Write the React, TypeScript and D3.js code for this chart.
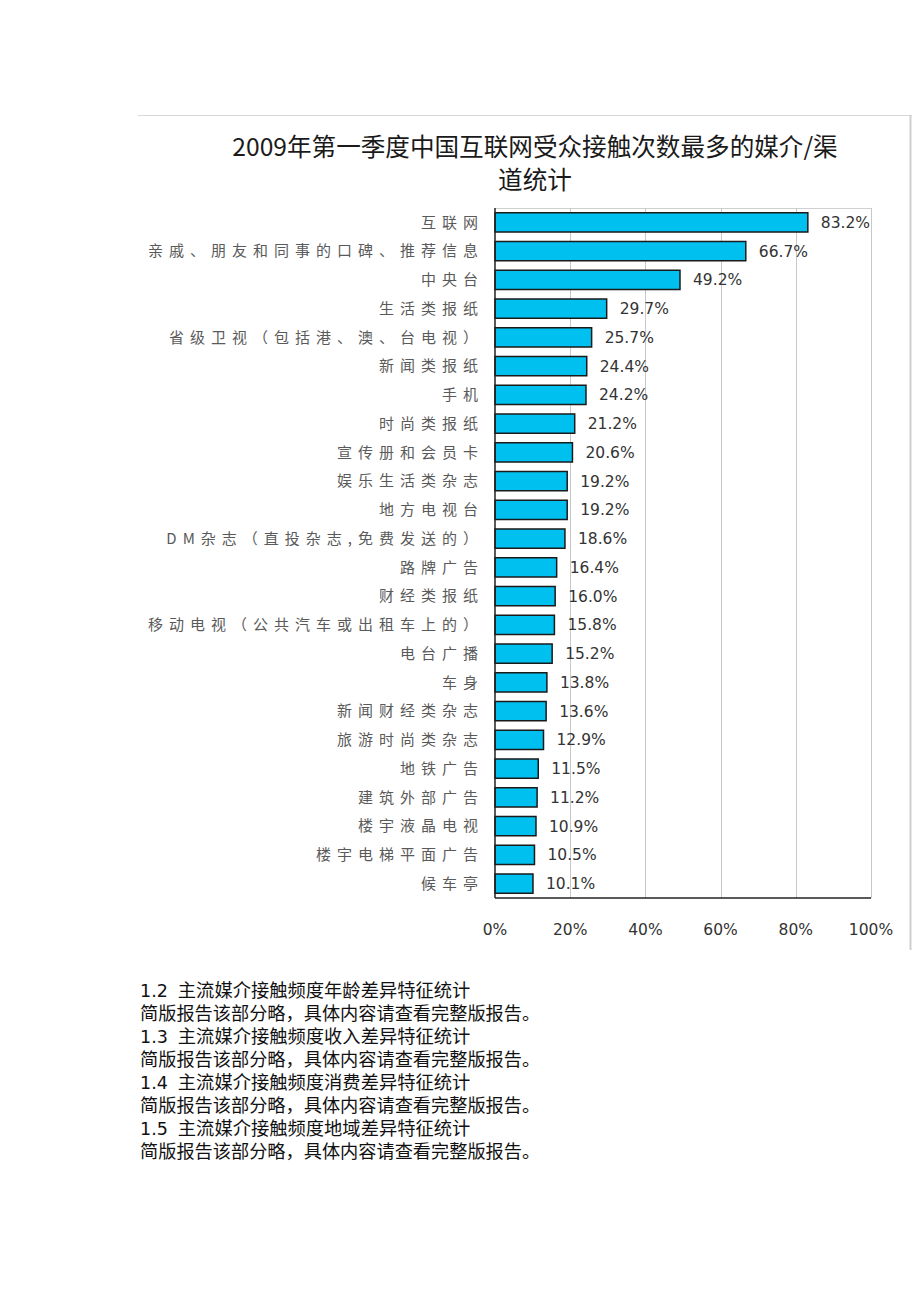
import React from "react";
import * as d3 from "d3";

const categories: string[] = [
  "互联网",
  "亲戚、朋友和同事的口碑、推荐信息",
  "中央台",
  "生活类报纸",
  "省级卫视（包括港、澳、台电视）",
  "新闻类报纸",
  "手机",
  "时尚类报纸",
  "宣传册和会员卡",
  "娱乐生活类杂志",
  "地方电视台",
  "DM杂志（直投杂志,免费发送的）",
  "路牌广告",
  "财经类报纸",
  "移动电视（公共汽车或出租车上的）",
  "电台广播",
  "车身",
  "新闻财经类杂志",
  "旅游时尚类杂志",
  "地铁广告",
  "建筑外部广告",
  "楼宇液晶电视",
  "楼宇电梯平面广告",
  "候车亭",
];

const values: number[] = [
  83.2, 66.7, 49.2, 29.7, 25.7, 24.4, 24.2, 21.2, 20.6, 19.2, 19.2, 18.6,
  16.4, 16.0, 15.8, 15.2, 13.8, 13.6, 12.9, 11.5, 11.2, 10.9, 10.5, 10.1,
];

const ticks: number[] = [0, 20, 40, 60, 80, 100];

const titleLines: string[] = [
  "2009年第一季度中国互联网受众接触次数最多的媒介/渠",
  "道统计",
];

const sections: [string, string][] = [
  ["1.2", "主流媒介接触频度年龄差异特征统计"],
  ["1.3", "主流媒介接触频度收入差异特征统计"],
  ["1.4", "主流媒介接触频度消费差异特征统计"],
  ["1.5", "主流媒介接触频度地域差异特征统计"],
];
const sectionNote = "简版报告该部分略，具体内容请查看完整版报告。";

export default function App() {
  const x = d3.scaleLinear().domain([0, 100]).range([495, 871]);
  const y = d3
    .scaleBand<string>()
    .domain(categories)
    .range([208, 898])
    .paddingInner(0.33)
    .paddingOuter(0.165);

  const cjk = "'Noto Sans CJK SC', sans-serif";
  const latin = "'DejaVu Sans', Verdana, sans-serif";

  return (
    <svg
      width={920}
      height={1302}
      style={{ position: "absolute", left: 0, top: 0, background: "#fff" }}
    >
      {/* picture frame */}
      <line x1={138} x2={912} y1={115.5} y2={115.5} stroke="#d8d8d8" />
      <line x1={910.5} x2={910.5} y1={115} y2={950} stroke="#cfcfcf" strokeWidth={2} />

      {/* title */}
      {titleLines.map((t, i) => (
        <text
          key={i}
          x={535}
          y={156 + i * 33}
          textAnchor="middle"
          fontFamily={cjk}
          fontSize={24.6}
          fill="#1a1a1a"
        >
          {t}
        </text>
      ))}

      {/* plot area top border */}
      <line x1={495} x2={871} y1={208.5} y2={208.5} stroke="#d0d0d0" />

      {/* gridlines */}
      {ticks.slice(1).map((t) => (
        <line
          key={t}
          x1={Math.round(x(t)) + 0.5}
          x2={Math.round(x(t)) + 0.5}
          y1={208}
          y2={898}
          stroke="#c8c8c8"
          strokeWidth={1}
        />
      ))}

      {/* bars */}
      {categories.map((c, i) => (
        <rect
          key={c}
          x={x(0)}
          y={y(c)!}
          width={x(values[i]) - x(0)}
          height={y.bandwidth()}
          fill="#00c0f0"
          stroke="#1a1a1a"
          strokeWidth={1.5}
        />
      ))}

      {/* axes */}
      <line x1={495} x2={495} y1={208} y2={898} stroke="#222" strokeWidth={1.5} />
      <line x1={495} x2={871} y1={898} y2={898} stroke="#222" strokeWidth={1.5} />

      {/* category labels */}
      {categories.map((c) => (
        <text
          key={c}
          x={484}
          y={y(c)! + y.bandwidth() / 2}
          dy="0.35em"
          textAnchor="end"
          fontFamily={cjk}
          fontSize={15}
          letterSpacing={6}
          fill="#5a5a5a"
        >
          {c}
        </text>
      ))}

      {/* value labels */}
      {categories.map((c, i) => (
        <text
          key={c}
          x={x(values[i]) + 13}
          y={y(c)! + y.bandwidth() / 2}
          dy="0.36em"
          fontFamily={latin}
          fontSize={15.5}
          fill="#333"
        >
          {values[i].toFixed(1) + "%"}
        </text>
      ))}

      {/* tick labels */}
      {ticks.map((t) => (
        <text
          key={t}
          x={x(t)}
          y={930}
          dy="0.35em"
          textAnchor="middle"
          fontFamily={latin}
          fontSize={15.5}
          fill="#333"
        >
          {t + "%"}
        </text>
      ))}

      {/* report text below */}
      {sections.map(([num, title], i) => (
        <g key={num}>
          <text x={140} y={997 + i * 46} fill="#111">
            <tspan fontFamily={latin} fontSize={17.5}>{num}</tspan>
            <tspan fontFamily={cjk} fontSize={18.3} dx={10}>{title}</tspan>
          </text>
          <text x={140} y={1020 + i * 46} fontSize={18.2} fontFamily={cjk} fill="#111">
            {sectionNote}
          </text>
        </g>
      ))}
    </svg>
  );
}
